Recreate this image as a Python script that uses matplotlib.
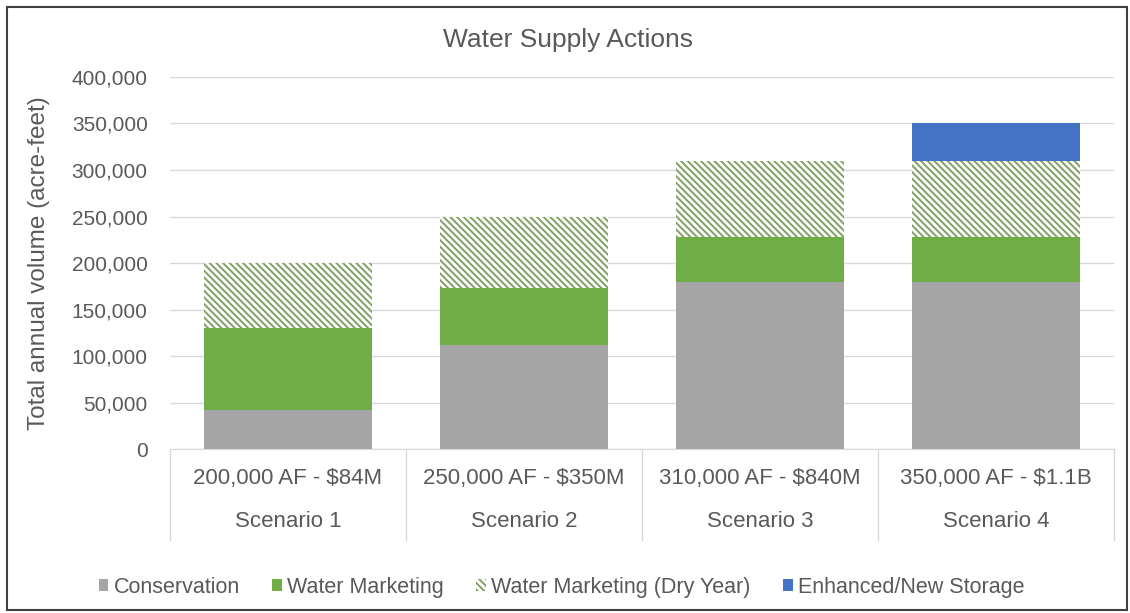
import matplotlib
matplotlib.use('Agg')
import matplotlib.pyplot as plt
from matplotlib.patches import Rectangle, Patch
from matplotlib.ticker import FuncFormatter
import matplotlib.transforms as mtransforms

plt.rcParams['font.family'] = ['Liberation Sans', 'DejaVu Sans']
plt.rcParams['hatch.linewidth'] = 1.4

scenarios = ['Scenario 1', 'Scenario 2', 'Scenario 3', 'Scenario 4']
costs = ['200,000 AF - $84M', '250,000 AF - $350M', '310,000 AF - $840M', '350,000 AF - $1.1B']
conservation = [42000, 112000, 180000, 180000]
marketing = [88000, 61000, 48000, 48000]
marketing_dry = [70000, 77000, 82000, 82000]
storage = [0, 0, 0, 40000]

grey = '#A5A5A5'
green = '#70AD47'
hatch_col = '#7FA062'
blue = '#4472C4'
txt = '#595959'
hatch = '\\' * 5

fig = plt.figure(figsize=(11.3, 6.13), dpi=100)
ax = fig.add_axes([0.1504, 0.2675, 0.8354, 0.6069])

x = list(range(len(scenarios)))
w = 0.71
b1 = conservation
b2 = [a + b for a, b in zip(b1, marketing)]
b3 = [a + b for a, b in zip(b2, marketing_dry)]

ax.bar(x, conservation, w, color=grey, zorder=2)
ax.bar(x, marketing, w, bottom=b1, color=green, zorder=2)
ax.bar(x, marketing_dry, w, bottom=b2, color='white', edgecolor=hatch_col,
       hatch=hatch, linewidth=0, zorder=2)
ax.bar(x, storage, w, bottom=b3, color=blue, zorder=2)

ax.set_xlim(-0.5, 3.5)
ax.set_ylim(0, 400000)
ax.set_yticks(range(0, 400001, 50000))
ax.yaxis.set_major_formatter(FuncFormatter(lambda v, p: '{:,.0f}'.format(v)))
ax.tick_params(axis='y', length=0, labelsize=15, labelcolor=txt, pad=16)
ax.set_xticks([])
ax.grid(axis='y', color='#D9D9D9', linewidth=1, zorder=0)
for s in ['top', 'right', 'left']:
    ax.spines[s].set_visible(False)
ax.spines['bottom'].set_color('#D9D9D9')

ax.set_ylabel('Total annual volume (acre-feet)', fontsize=17.5, color=txt)
ax.yaxis.set_label_coords(-0.127, 0.5)
fig.text(0.503, 0.935, 'Water Supply Actions', ha='center', va='center',
         fontsize=19, color=txt)

# two-level category axis
tr = mtransforms.blended_transform_factory(ax.transData, ax.transAxes)
for i in x:
    ax.text(i, -0.078, costs[i], transform=tr, ha='center', va='center',
            fontsize=16, color=txt)
    ax.text(i, -0.196, scenarios[i], transform=tr, ha='center', va='center',
            fontsize=16, color=txt)
for xs in [-0.5, 0.5, 1.5, 2.5, 3.5]:
    ax.plot([xs, xs], [0, -0.245], transform=tr, color='#D9D9D9',
            linewidth=1, clip_on=False)

handles = [Patch(facecolor=grey, label='Conservation'),
           Patch(facecolor=green, label='Water Marketing'),
           Patch(facecolor='white', edgecolor=hatch_col, hatch=hatch, linewidth=0,
                 label='Water Marketing (Dry Year)'),
           Patch(facecolor=blue, label='Enhanced/New Storage')]
fig.legend(handles=handles, loc='center', bbox_to_anchor=(0.497, 0.042), ncol=4,
           frameon=False, fontsize=15.5, labelcolor=txt, handlelength=0.45,
           handleheight=0.45, handletextpad=0.25, columnspacing=1.5)

fig.patches.append(Rectangle((0.006, 0.005), 0.991, 0.983, transform=fig.transFigure,
                             fill=False, edgecolor='#404040', linewidth=1.5))

fig.savefig('out.png', dpi=100)
